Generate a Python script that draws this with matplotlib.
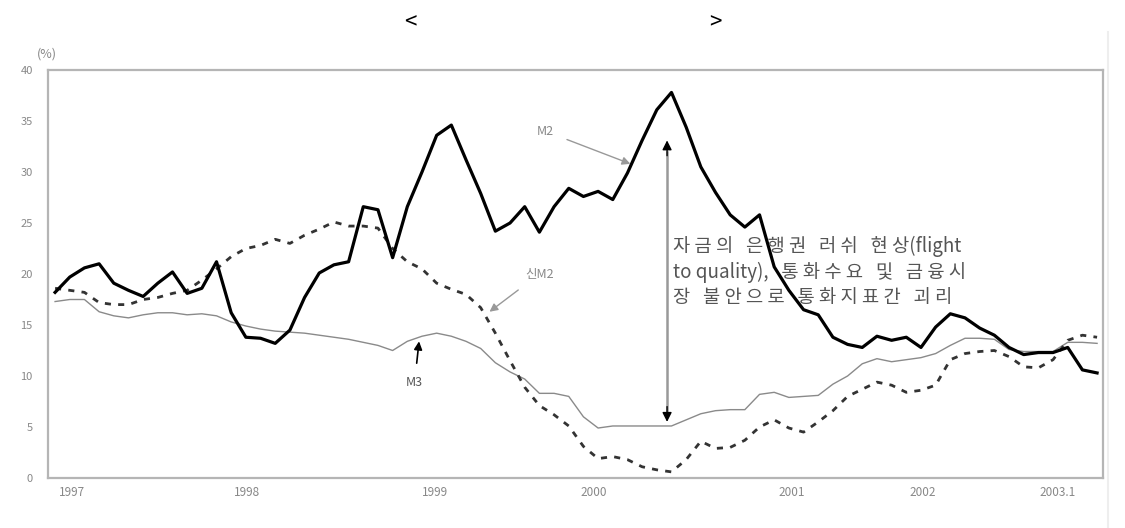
import matplotlib
matplotlib.use("Agg")
import matplotlib.pyplot as plt

plt.rcParams['font.family'] = ['Noto Sans CJK KR', 'DejaVu Sans']

# monthly growth rates (%), 1997.1 ~ 2003.x
m2 = [18.2, 19.7, 20.6, 21.0, 19.1, 18.4, 17.8, 19.1, 20.2, 18.1,
      18.6, 21.2, 16.2, 13.8, 13.7, 13.2, 14.5, 17.7, 20.1, 20.9,
      21.2, 26.6, 26.3, 21.6, 26.6, 30.0, 33.6, 34.6, 31.2, 27.9,
      24.2, 25.0, 26.6, 24.1, 26.6, 28.4, 27.6, 28.1, 27.3, 29.9,
      33.1, 36.1, 37.8, 34.4, 30.5, 28.0, 25.8, 24.6, 25.8, 20.7,
      18.4, 16.5, 16.0, 13.8, 13.1, 12.8, 13.9, 13.5, 13.8, 12.8,
      14.8, 16.1, 15.7, 14.7, 14.0, 12.8, 12.1, 12.3, 12.3, 12.8,
      10.6, 10.3]
new_m2 = [18.6, 18.4, 18.2, 17.2, 17.0, 17.0, 17.5, 17.7, 18.1, 18.4,
          19.4, 20.5, 21.7, 22.5, 22.8, 23.4, 23.0, 23.8, 24.4, 25.1,
          24.7, 24.7, 24.5, 22.5, 21.2, 20.5, 19.1, 18.5, 18.0, 16.7,
          14.2, 11.5, 8.9, 7.1, 6.2, 5.1, 3.1, 1.9, 2.1, 1.8,
          1.1, 0.8, 0.6, 1.8, 3.6, 2.9, 3.0, 3.7, 5.0, 5.7,
          4.9, 4.5, 5.5, 6.6, 8.0, 8.7, 9.4, 9.1, 8.4, 8.6,
          9.1, 11.6, 12.2, 12.4, 12.5, 11.9, 10.9, 10.8, 11.6, 13.5,
          14.0, 13.8]
m3 = [17.3, 17.5, 17.5, 16.3, 15.9, 15.7, 16.0, 16.2, 16.2, 16.0,
      16.1, 15.9, 15.3, 14.9, 14.6, 14.4, 14.3, 14.2, 14.0, 13.8,
      13.6, 13.3, 13.0, 12.5, 13.4, 13.9, 14.2, 13.9, 13.4, 12.7,
      11.3, 10.4, 9.7, 8.3, 8.3, 8.0, 6.0, 4.9, 5.1, 5.1,
      5.1, 5.1, 5.1, 5.7, 6.3, 6.6, 6.7, 6.7, 8.2, 8.4,
      7.9, 8.0, 8.1, 9.2, 10.0, 11.2, 11.7, 11.4, 11.6, 11.8,
      12.2, 13.0, 13.7, 13.7, 13.6, 12.6, 12.4, 12.4, 12.4, 13.3,
      13.3, 13.2]

tick_pos = [1.15, 13.1, 25.9, 36.7, 50.2, 59.1, 68.3]
tick_lab = ["1997", "1998", "1999", "2000", "2001", "2002", "2003.1"]
yticks = [0, 5, 10, 15, 20, 25, 30, 35, 40]

note = ("자 금 의   은 행 권   러 쉬   현 상(flight\n"
        "to quality),   통 화 수 요   및   금 융 시\n"
        "장   불 안 으 로   통 화 지 표 간   괴 리")

x = list(range(len(m2)))

fig = plt.figure(figsize=(11.25, 5.28), dpi=100)
ax = fig.add_axes([0.0427, 0.0947, 0.9377, 0.7727])

ax.plot(x, m3, color="#8a8a8a", lw=1.0)
ax.plot(x, new_m2, color="#333333", lw=2.0, dashes=(2.2, 2.6))
ax.plot(x, m2, color="black", lw=2.3)

ax.set_xlim(-0.48, 71.4)
ax.set_ylim(0, 40)
ax.set_yticks(yticks)
ax.set_yticklabels([str(v) for v in yticks], color="#888888", fontsize=8)
ax.set_xticks(tick_pos)
ax.set_xticklabels(tick_lab, color="#888888", fontsize=8.5)
ax.tick_params(axis="x", length=0, pad=6)
ax.tick_params(axis="y", length=0, pad=11)
for s in ax.spines.values():
    s.set_color("#b5b5b5"); s.set_linewidth(1.6)

# annotations
ax.annotate("M2", xy=(39.2, 30.8), xytext=(33.4, 34.0), color="#888888", fontsize=9,
            ha="center", va="center",
            arrowprops=dict(arrowstyle="-|>", color="#999999", lw=1, shrinkA=8, shrinkB=0,
                            mutation_scale=12))
ax.annotate("신M2", xy=(29.6, 16.3), xytext=(33.0, 20.0), color="#888888", fontsize=9,
            ha="center", va="center",
            arrowprops=dict(arrowstyle="-|>", color="#999999", lw=1, shrinkA=8, shrinkB=0,
                            mutation_scale=12))
ax.annotate("M3", xy=(24.8, 13.4), xytext=(24.5, 9.4), color="#555555", fontsize=9,
            ha="center", va="center",
            arrowprops=dict(arrowstyle="-|>", color="black", lw=1.2, shrinkA=7, shrinkB=0,
                            mutation_scale=12))
# double arrow: gray shaft, black heads
ax.plot([41.7, 41.7], [6.5, 32.0], color="#999999", lw=1.8)
ax.annotate("", xy=(41.7, 33.1), xytext=(41.7, 31.6),
            arrowprops=dict(arrowstyle="-|>", color="black", lw=1, shrinkA=0, shrinkB=0,
                            mutation_scale=14))
ax.annotate("", xy=(41.7, 5.5), xytext=(41.7, 7.0),
            arrowprops=dict(arrowstyle="-|>", color="black", lw=1, shrinkA=0, shrinkB=0,
                            mutation_scale=14))
ax.text(42.1, 20.2, note, color="#555555", fontsize=13.5, ha="left", va="center",
        linespacing=1.3)

fig.text(0.042, 0.898, "(%)", color="#888888", fontsize=9, ha="center", va="center")
fig.text(0.365, 0.957, "<", fontsize=16, ha="center", va="center")
fig.text(0.636, 0.957, ">", fontsize=16, ha="center", va="center")
fig.add_artist(plt.Line2D([0.985, 0.985], [0.0, 0.94], color="#eeeeee", lw=1.5))

fig.savefig("out.png", dpi=100)
